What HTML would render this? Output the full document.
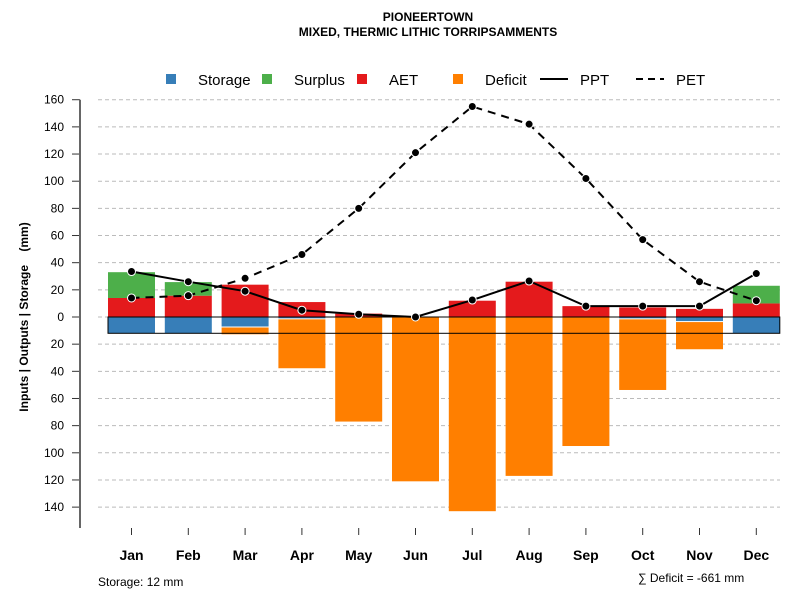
<!DOCTYPE html>
<html><head><meta charset="utf-8"><style>
body{margin:0;background:#fff;}
svg{display:block;font-family:"Liberation Sans",Arial,sans-serif;}
</style></head><body>
<svg id="chart" width="800" height="600" xmlns="http://www.w3.org/2000/svg">
<text x="428" y="21" text-anchor="middle" font-size="12" font-weight="bold">PIONEERTOWN</text>
<text x="428" y="36" text-anchor="middle" font-size="12" font-weight="bold">MIXED, THERMIC LITHIC TORRIPSAMMENTS</text>
<g id="legend" font-size="15">
<g><rect x="166" y="74" width="10" height="10" fill="#377eb8"/><text x="198" y="85">Storage</text></g>
<g><rect x="262" y="74" width="10" height="10" fill="#4daf4a"/><text x="294" y="85">Surplus</text></g>
<g><rect x="357" y="74" width="10" height="10" fill="#e41a1c"/><text x="389" y="85">AET</text></g>
<g><rect x="453" y="74" width="10" height="10" fill="#ff7f00"/><text x="485" y="85">Deficit</text></g>
<g><line x1="540" y1="79" x2="568" y2="79" stroke="#000" stroke-width="2"/><text x="580" y="85">PPT</text></g>
<g><line x1="636" y1="79" x2="664" y2="79" stroke="#000" stroke-width="2" stroke-dasharray="7,5"/><text x="676" y="85">PET</text></g>
</g>
<g id="grid"></g><g id="bars"></g><g id="lines"></g><g id="axes"></g>
<text xml:space="preserve" transform="translate(28,317) rotate(-90)" text-anchor="middle" font-size="12" font-weight="bold">Inputs | Outputs | Storage    (mm)</text>
<text x="98" y="586" font-size="12">Storage: 12 mm</text>
<text x="638" y="582" font-size="12">∑ Deficit = -661 mm</text>
</svg>
<script>
const months=["Jan","Feb","Mar","Apr","May","Jun","Jul","Aug","Sep","Oct","Nov","Dec"];
const storageVals=[12,12,7,1,0,0,0,0,0,1,3,12];
const surplusVals=[19,10,0,0,0,0,0,0,0,0,0,13];
const aetVals=[14,15.7,23.8,11,2.5,0,12,26,8,7,6,10];
const deficitVals=[0,0,5,36,77,121,143,117,95,52,20,0];
const pptVals=[33.5,26,19,5,2,0,12.5,26.5,8,8,8,32];
const petVals=[14,15.7,28.5,46,80,121,155,142,102,57,26,12];
const yTicks=[160,140,120,100,80,60,40,20,0,20,40,60,80,100,120,140];
const ySigned=[160,140,120,100,80,60,40,20,0,-20,-40,-60,-80,-100,-120,-140];
const storageCap=12;
const NS="http://www.w3.org/2000/svg";
const y=v=>317-v*1.358;
const x=i=>131.5+i*56.8;
const bw=47;
function mk(tag,attrs,parent){const e=document.createElementNS(NS,tag);for(const k in attrs)e.setAttribute(k,attrs[k]);document.getElementById(parent).appendChild(e);return e;}
ySigned.forEach((v,i)=>{
 const g=mk("line",{x1:98,x2:780,y1:y(v),y2:y(v),stroke:"#bbb","stroke-dasharray":"4,3"},"grid");
 
 
 const t=mk("line",{x1:72,x2:80,y1:y(v),y2:y(v),stroke:"#333"},"axes");
 
 
 const l=mk("text",{x:64,y:y(v)+4,"text-anchor":"end","font-size":"12"},"axes");
 l.textContent=yTicks[i];
 
 
});
const ax=mk("line",{x1:80,x2:80,y1:y(160),y2:528,stroke:"#666","stroke-width":2},"axes");


months.forEach((m,i)=>{
 const cx=x(i),l=cx-bw/2;
 const a=mk("rect",{x:l,y:y(aetVals[i]),width:bw,height:aetVals[i]*1.358,fill:"#e41a1c"},"bars");
 
 
 const s=mk("rect",{x:l,y:y(aetVals[i]+surplusVals[i]),width:bw,height:surplusVals[i]*1.358,fill:"#4daf4a"},"bars");
 
 
 const st=mk("rect",{x:l,y:y(0),width:bw,height:storageVals[i]*1.358,fill:"#377eb8"},"bars");
 
 
 const d=mk("rect",{x:l,y:y(-storageVals[i])+(storageVals[i]>0&&storageVals[i]<storageCap?1:0),width:bw,height:deficitVals[i]*1.358,fill:"#ff7f00"},"bars");
 
 
 const t=mk("line",{x1:cx,x2:cx,y1:528,y2:535,stroke:"#333"},"axes");
 
 
 const lb=mk("text",{x:cx,y:560,"text-anchor":"middle","font-size":"14","font-weight":"bold"},"axes");
 lb.textContent=m;
 
 
});
const box=mk("rect",{x:x(0)-bw/2,y:y(0),width:x(11)-x(0)+bw,height:storageCap*1.358,fill:"none",stroke:"#000","stroke-width":1},"bars");


function series(vals,dash,name){
 const p=mk("polyline",{points:vals.map((v,i)=>x(i)+","+y(v)).join(" "),fill:"none",stroke:"#000","stroke-width":2,"stroke-dasharray":dash},"lines");
 
 
 vals.forEach((v,i)=>{
  const c=mk("circle",{cx:x(i),cy:y(v),r:4,fill:"#000",stroke:"#fff","stroke-width":1},"lines");
  
  
 });
}
series(petVals,"8,6","pet");
series(pptVals,"none","ppt");
</script>
</body></html>
